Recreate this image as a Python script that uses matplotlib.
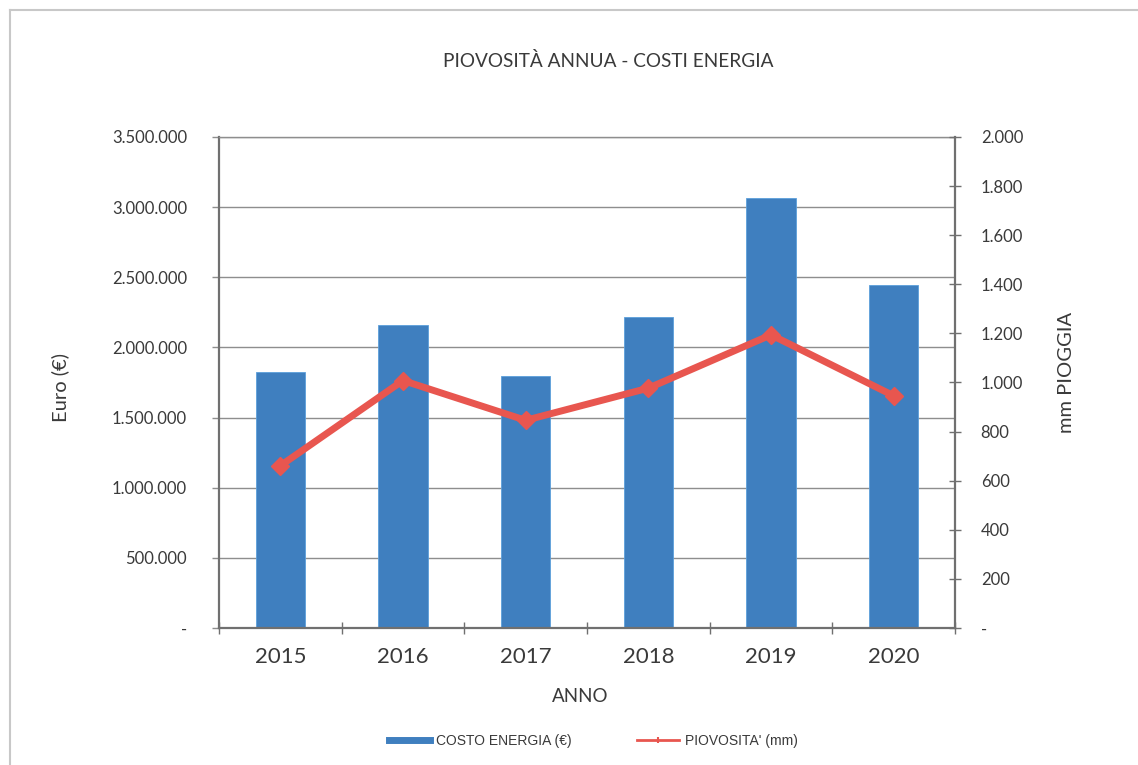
import matplotlib
matplotlib.use("Agg")
import matplotlib.pyplot as plt
from matplotlib.lines import Line2D
from matplotlib.ticker import FixedLocator, FuncFormatter

years = ["2015", "2016", "2017", "2018", "2019", "2020"]
costo_energia = [1823000, 2162000, 1794000, 2216000, 3062000, 2447000]
piovosita = [661, 1008, 846, 977, 1194, 946]

title = "PIOVOSITÀ ANNUA - COSTI ENERGIA"
left_label = "Euro (€)"
right_label = "mm PIOGGIA"
x_label = "ANNO"
legend_labels = ["COSTO ENERGIA (€)", "PIOVOSITA' (mm)"]

plt.rcParams['font.family'] = ['Lato', 'DejaVu Sans']
TXT = "#3A3A3A"
BAR = "#3F7FBF"
LINE = "#E8564F"
GRID = "#8E8E8E"
AX = "#707070"

W, H = 1138, 765
fig = plt.figure(figsize=(W / 100, H / 100), dpi=100)

# light frame lines (top and left)
fig.add_artist(Line2D([10 / W, 1], [1 - 10 / H, 1 - 10 / H], color="#C8C8C8", lw=1.5))
fig.add_artist(Line2D([10 / W, 10 / W], [0, 1 - 10 / H], color="#C8C8C8", lw=1.5))

l, r, t, b = 219, 955, 137, 628
ax = fig.add_axes([l / W, 1 - b / H, (r - l) / W, (b - t) / H])
x = list(range(len(years)))
ax.bar(x, costo_energia, width=0.4, color=BAR, edgecolor="#5C9FDB", linewidth=0.6, zorder=2)
ax.set_xlim(-0.5, len(years) - 0.5)
ax.set_ylim(0, 3500000)
ax.yaxis.set_major_locator(FixedLocator([i * 500000 for i in range(8)]))

def fmt_thousands(v, pos):
    if v == 0:
        return "-"
    return f"{int(round(v)):,}".replace(",", ".")

ax.yaxis.set_major_formatter(FuncFormatter(fmt_thousands))
ax.grid(axis="y", color=GRID, lw=1.0, zorder=0)
ax.set_axisbelow(True)
ax.set_xticks(x)
ax.set_xticklabels(years, fontsize=16, color=TXT)
ax.tick_params(axis="x", which="major", length=0, pad=14)
ax.set_xticks([i - 0.5 for i in range(len(years) + 1)], minor=True)
ax.tick_params(axis="x", which="minor", length=9, direction="inout", color=AX, width=1)
ax.tick_params(axis="y", length=5, color=GRID, width=1, labelsize=12, labelcolor=TXT, pad=18)
for s in ["left", "bottom"]:
    ax.spines[s].set_color(AX)
    ax.spines[s].set_linewidth(1.6)
ax.spines["top"].set_color(GRID)
ax.spines["top"].set_linewidth(1.0)
ax.spines["right"].set_visible(False)

ax2 = ax.twinx()
ax2.plot(x, piovosita, color=LINE, lw=5, marker="D", markersize=9, zorder=3)
ax2.set_ylim(0, 2000)
ax2.yaxis.set_major_locator(FixedLocator([i * 200 for i in range(11)]))
ax2.yaxis.set_major_formatter(FuncFormatter(fmt_thousands))
ax2.tick_params(axis="y", length=9, direction="inout", color=AX, width=1, labelsize=12, labelcolor=TXT, pad=14)
for s in ["left", "bottom", "top"]:
    ax2.spines[s].set_visible(False)
ax2.spines["right"].set_color(AX)
ax2.spines["right"].set_linewidth(1.6)

fig.text(60 / W, 1 - 387 / H, left_label, rotation=90, ha="center", va="center", fontsize=14.5, color=TXT)
fig.text(1066 / W, 1 - 372 / H, right_label, rotation=90, ha="center", va="center", fontsize=14.5, color=TXT)
fig.text(580 / W, 1 - 697 / H, x_label, ha="center", va="center", fontsize=13.5, color=TXT)
fig.text(608 / W, 1 - 61 / H, title, ha="center", va="center", fontsize=13.7, color=TXT)

handles = [Line2D([], [], color=BAR, lw=5),
           Line2D([], [], color=LINE, lw=2, marker="|", markersize=5, markeredgewidth=1.5)]
leg = fig.legend(handles, legend_labels, loc="center", bbox_to_anchor=(593 / W, 1 - 741 / H),
                 ncol=2, frameon=False, handlelength=3.0, columnspacing=4.75, handletextpad=0.4,
                 prop={"family": ["Liberation Sans", "DejaVu Sans"], "size": 10})
for txt in leg.get_texts():
    txt.set_color(TXT)

fig.savefig("out.png", dpi=100, facecolor="white")
